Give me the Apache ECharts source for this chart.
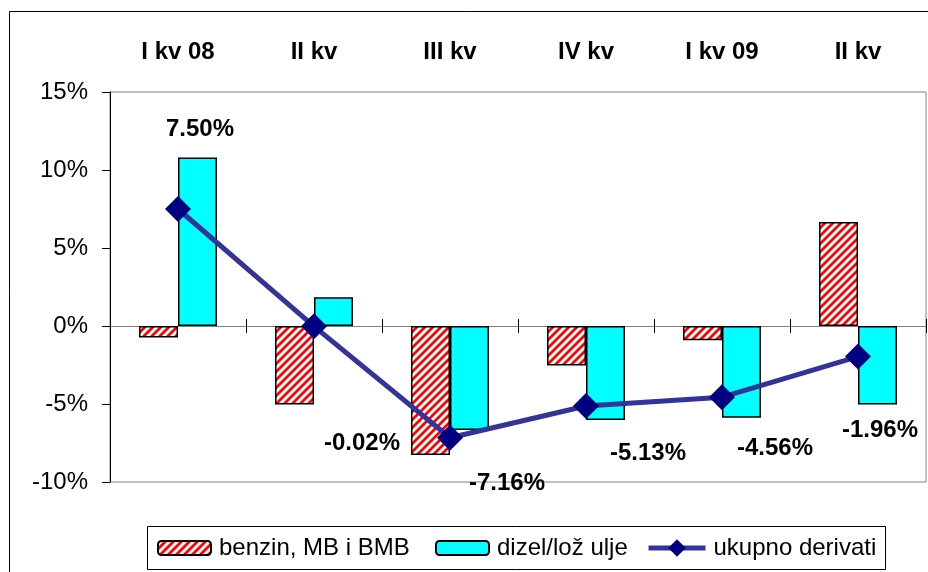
<!DOCTYPE html>
<html>
<head>
<meta charset="utf-8">
<script src="https://cdn.jsdelivr.net/npm/echarts@6/dist/echarts.min.js"></script>
<style>
  html, body { margin: 0; padding: 0; background: #fff; }
  #chart { width: 928px; height: 572px; }
</style>
</head>
<body>
<div id="chart"></div>
<script>
const categories = ['I kv 08', 'II kv', 'III kv', 'IV kv', 'I kv 09', 'II kv']
const benzin = [-0.73, -5.04, -8.27, -2.54, -0.92, 6.67]
const dizel = [10.8, 1.84, -6.67, -6.03, -5.88, -5.04]
const ukupno = [7.50, -0.02, -7.16, -5.13, -4.56, -1.96]
const seriesNames = ['benzin, MB i BMB', 'dizel/lož ulje', 'ukupno derivati']

// where excel put the value labels, relative to each point
const labelOffsets = [[22, -80], [48, 117], [57, 46], [62, 47], [53, 51], [22, 74]]

const font = "'Liberation Sans', Arial, sans-serif"

function stripePattern () {
  const c = document.createElement('canvas')
  c.width = 8
  c.height = 8
  const ctx = c.getContext('2d')
  ctx.fillStyle = '#ffffff'
  ctx.fillRect(0, 0, 8, 8)
  ctx.strokeStyle = '#ff0000'
  ctx.lineWidth = 2.8
  ctx.beginPath()
  ctx.moveTo(-2, 10); ctx.lineTo(10, -2)
  ctx.moveTo(-2, 2); ctx.lineTo(2, -2)
  ctx.moveTo(6, 10); ctx.lineTo(10, 6)
  ctx.stroke()
  return c
}

const chart = echarts.init(document.getElementById('chart'), null, { renderer: 'canvas' })

const catAxisBase = {
  type: 'category',
  data: categories,
  boundaryGap: true,
  axisLabel: { show: false },
  splitLine: { show: false }
}

// one legend per entry so each sits where excel had it; the box is drawn once
function legendAt (name, left, opts) {
  return {
    data: [name],
    left,
    top: 536,
    padding: 0,
    itemWidth: 53,
    itemHeight: 14,
    textStyle: { fontSize: 24, color: '#000', fontFamily: font, padding: [0, 0, 0, 3] },
    ...opts
  }
}

chart.setOption({
  animation: false,
  textStyle: { fontFamily: font },
  graphic: [
    {
      type: 'rect',
      shape: { x: 9.5, y: 11.5, width: 1000, height: 1000 },
      style: { fill: 'none', stroke: '#000', lineWidth: 1 },
      silent: true
    },
    {
      type: 'rect',
      shape: { x: 147.5, y: 526.5, width: 738, height: 43 },
      style: { fill: '#fff', stroke: '#000', lineWidth: 1 },
      z: -1,
      silent: true
    }
  ],
  grid: {
    left: 110,
    right: 2,
    top: 92,
    bottom: 90,
    show: true,
    borderColor: '#808080',
    borderWidth: 1
  },
  legend: [
    legendAt(seriesNames[0], 157),
    legendAt(seriesNames[1], 435),
    legendAt(seriesNames[2], 646, { itemWidth: 57, itemHeight: 22, lineStyle: { width: 5 } })
  ],
  xAxis: [
    {
      ...catAxisBase,
      position: 'top',
      axisLine: { show: false, onZero: false },
      axisTick: { show: false },
      axisLabel: { show: true, fontSize: 24, fontWeight: 'bold', color: '#000', margin: 28, fontFamily: font }
    },
    {
      ...catAxisBase,
      position: 'bottom',
      axisLine: { show: true, onZero: true, onZeroAxisIndex: 0, lineStyle: { color: '#808080', width: 1 } },
      axisTick: { show: true, inside: true, length: 7, lineStyle: { color: '#000', width: 1 } }
    },
    {
      // second copy of the zero axis only for the downward half of the ticks
      ...catAxisBase,
      position: 'top',
      axisLine: { show: true, onZero: true, onZeroAxisIndex: 0, lineStyle: { color: '#808080', width: 1, opacity: 0 } },
      axisTick: { show: true, inside: true, length: 7, lineStyle: { color: '#000', width: 1, opacity: 1 } }
    }
  ],
  yAxis: {
    type: 'value',
    min: -10,
    max: 15,
    interval: 5,
    axisLine: { show: true, onZero: false, lineStyle: { color: '#000', width: 1 } },
    axisTick: { show: true, length: 8, lineStyle: { color: '#000' } },
    splitLine: { show: false },
    axisLabel: { formatter: '{value}%', fontSize: 24, color: '#000', margin: 22, fontFamily: font }
  },
  series: [
    {
      name: seriesNames[0],
      type: 'bar',
      xAxisIndex: 1,
      data: benzin,
      barWidth: 39,
      barGap: '0%',
      itemStyle: {
        color: { image: stripePattern(), repeat: 'repeat' },
        borderColor: '#000',
        borderWidth: 1.5
      }
    },
    {
      name: seriesNames[1],
      type: 'bar',
      xAxisIndex: 1,
      data: dizel,
      barWidth: 39,
      barGap: '0%',
      itemStyle: { color: '#00ffff', borderColor: '#000', borderWidth: 1.5 }
    },
    {
      name: seriesNames[2],
      type: 'line',
      xAxisIndex: 1,
      data: ukupno.map((v, i) => ({
        value: v,
        label: { offset: labelOffsets[i] }
      })),
      symbol: 'diamond',
      symbolSize: 26,
      lineStyle: { color: '#333399', width: 5 },
      itemStyle: { color: '#000080' },
      z: 5,
      label: {
        show: true,
        position: 'inside',
        fontSize: 24,
        fontWeight: 'bold',
        color: '#000',
        fontFamily: font,
        formatter: p => p.value.toFixed(2) + '%'
      }
    }
  ]
})
</script>
</body>
</html>
